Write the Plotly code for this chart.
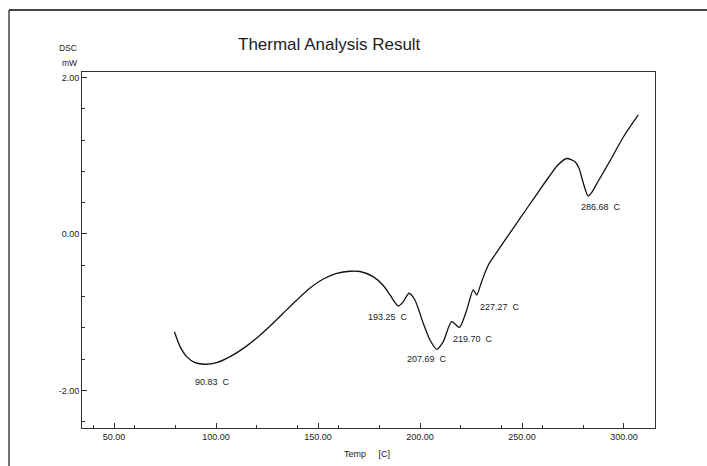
import plotly.graph_objects as go

# DSC curve (Temp in C, DSC in mW)
temp = [79.6, 82.4, 85.6, 89.7, 94.6, 100.3, 106.9, 113.4, 120.0, 126.5, 133.0, 139.6,
        146.1, 152.6, 159.2, 165.7, 170.6, 177.0, 182.0, 185.3, 189.4, 191.7, 194.6,
        197.5, 201.6, 204.9, 208.2, 211.4, 215.5, 219.3, 222.9, 226.1, 227.8, 230.2,
        233.5, 238.4, 244.1, 249.0, 253.9, 258.8, 263.7, 267.6, 271.9, 276.0, 277.9,
        279.9, 282.4, 284.3, 287.4, 293.1, 299.7, 307.0]
dsc = [-1.248, -1.439, -1.567, -1.644, -1.664, -1.644, -1.567, -1.461, -1.328, -1.175,
       -1.010, -0.844, -0.691, -0.575, -0.504, -0.476, -0.479, -0.545, -0.658, -0.779,
       -0.920, -0.868, -0.757, -0.843, -1.140, -1.354, -1.473, -1.375, -1.120, -1.192,
       -0.971, -0.715, -0.779, -0.609, -0.396, -0.204, 0.013, 0.198, 0.383, 0.568,
       0.747, 0.881, 0.964, 0.923, 0.843, 0.664, 0.485, 0.536, 0.677, 0.932, 1.239, 1.520]

# peak labels
peak_text = ["90.83  C", "193.25  C", "207.69  C", "219.70  C", "227.27  C", "286.68  C"]
peak_x = [88.7, 173.5, 192.6, 215.0, 228.3, 278.1]
peak_y = [-1.886, -1.056, -1.600, -1.345, -0.936, 0.341]

x_ticks = [50, 100, 150, 200, 250, 300]
x_ticklabels = ["50.00", "100.00", "150.00", "200.00", "250.00", "300.00"]
y_ticks = [-2, 0, 2]
y_ticklabels = ["-2.00", "0.00", "2.00"]

FONT = "Liberation Sans, Arial, sans-serif"
AX = "#333333"

fig = go.Figure()
fig.add_trace(go.Scatter(
    x=temp, y=dsc, mode="lines",
    line=dict(color="#111111", width=1.3, shape="spline", smoothing=0.7),
    hoverinfo="skip", showlegend=False))

for t, px, py in zip(peak_text, peak_x, peak_y):
    fig.add_annotation(x=px, y=py, text=t, showarrow=False, xanchor="left",
                       yanchor="middle", font=dict(family=FONT, size=9, color="#222"))

# title & unit labels
fig.add_annotation(xref="paper", yref="paper", x=0.4328, y=1.076, text="Thermal Analysis Result",
                   showarrow=False, xanchor="center", yanchor="middle",
                   font=dict(family=FONT, size=17, color="#222"))
fig.add_annotation(xref="paper", yref="paper", x=-0.005, y=1.068, text="DSC",
                   showarrow=False, xanchor="right", yanchor="middle",
                   font=dict(family=FONT, size=8.5, color="#222"))
fig.add_annotation(xref="paper", yref="paper", x=-0.005, y=1.025, text="mW",
                   showarrow=False, xanchor="right", yanchor="middle",
                   font=dict(family=FONT, size=8.5, color="#222"))
fig.add_annotation(xref="paper", yref="paper", x=0.497, y=-0.073, text="Temp&nbsp;&nbsp;&nbsp;&nbsp;&nbsp;[C]",
                   showarrow=False, xanchor="center", yanchor="middle",
                   font=dict(family=FONT, size=9, color="#222"))

# outer frame: top and left edges
fig.add_shape(type="line", xref="paper", yref="paper", x0=-0.1274, x1=1.0908, y0=1.1742, y1=1.1742,
              line=dict(color="#444444", width=2))
fig.add_shape(type="line", xref="paper", yref="paper", x0=-0.1274, x1=-0.1274, y0=-0.1067, y1=1.1742,
              line=dict(color="#444444", width=1.5))

fig.update_xaxes(range=[34.3, 315.2], tickmode="array", tickvals=x_ticks, ticktext=x_ticklabels,
                 ticks="inside", ticklen=5, tickcolor=AX, showline=True, linecolor=AX, linewidth=1,
                 mirror=True, showgrid=False, zeroline=False,
                 tickfont=dict(family=FONT, size=9, color="#222"),
                 minor=dict(dtick=20, tick0=0, ticks="inside", ticklen=3, tickcolor=AX, showgrid=False))
fig.update_yaxes(range=[-2.478, 2.069], tickmode="array", tickvals=y_ticks, ticktext=y_ticklabels,
                 ticks="inside", ticklen=5, tickcolor=AX, showline=True, linecolor=AX, linewidth=1,
                 mirror=True, showgrid=False, zeroline=False,
                 tickfont=dict(family=FONT, size=9, color="#222"),
                 minor=dict(dtick=0.4, tick0=0, ticks="inside", ticklen=3, tickcolor=AX, showgrid=False))

fig.update_layout(width=707, height=466, margin=dict(l=82, r=52, t=72, b=38),
                  paper_bgcolor="white", plot_bgcolor="white", showlegend=False)

fig.write_html("out.html")
